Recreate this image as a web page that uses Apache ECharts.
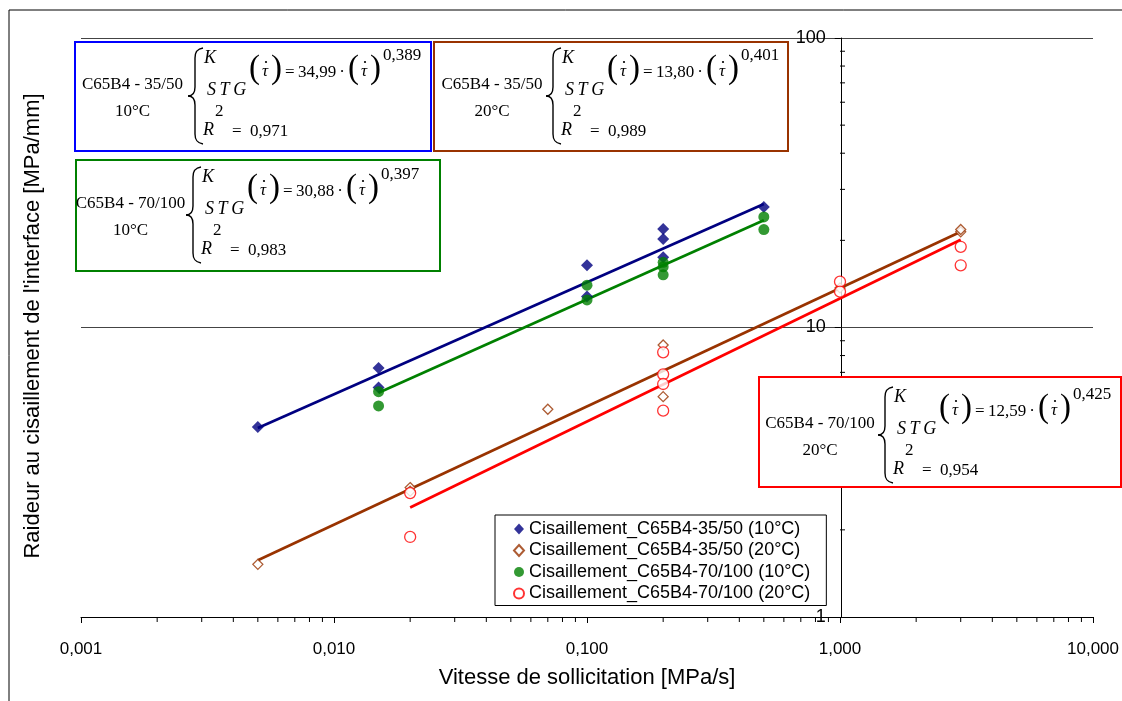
<!DOCTYPE html>
<html><head><meta charset="utf-8">
<script src="https://cdn.jsdelivr.net/npm/echarts@6/dist/echarts.min.js"></script>
<style>html,body{margin:0;padding:0;background:#fff}#c{width:1122px;height:701px}</style>
</head><body><div id="c"></div>
<script>
// ---- data ----
const seriesNames = [
  'Cisaillement_C65B4-35/50 (10°C)',
  'Cisaillement_C65B4-35/50 (20°C)',
  'Cisaillement_C65B4-70/100 (10°C)',
  'Cisaillement_C65B4-70/100 (20°C)'
];
const x_35_10 = [0.005, 0.015, 0.015, 0.1, 0.1, 0.2, 0.2, 0.2, 0.5];
const y_35_10 = [4.53, 7.25, 6.2, 16.4, 12.8, 21.9, 20.2, 17.5, 26.1];
const x_35_20 = [0.005, 0.02, 0.02, 0.07, 0.2, 0.2, 1, 3, 3];
const y_35_20 = [1.52, 2.80, 2.72, 5.22, 8.70, 5.77, 13.7, 21.4, 21.8];
const x_70_10 = [0.015, 0.015, 0.1, 0.1, 0.2, 0.2, 0.2, 0.5, 0.5];
const y_70_10 = [6.0, 5.36, 14.0, 12.45, 16.8, 16.2, 15.2, 24.1, 21.8];
const x_70_20 = [0.02, 0.02, 0.2, 0.2, 0.2, 0.2, 1, 1, 3, 3];
const y_70_20 = [2.68, 1.89, 8.21, 6.89, 6.38, 5.16, 14.4, 13.3, 19.0, 16.4];
// trend line end points
const fit_35_10_x = [0.005, 0.5],  fit_35_10_y = [4.5, 26.7];
const fit_35_20_x = [0.005, 3],    fit_35_20_y = [1.57, 21.4];
const fit_70_10_x = [0.015, 0.5],  fit_70_10_y = [5.95, 23.45];
const fit_70_20_x = [0.02, 3],     fit_70_20_y = [2.39, 20.1];
// equations text
const eqLabels = [['C65B4 - 35/50', '10°C'], ['C65B4 - 35/50', '20°C'], ['C65B4 - 70/100', '10°C'], ['C65B4 - 70/100', '20°C']];
const eqCoef = ['34,99', '13,80', '30,88', '12,59'];
const eqExp = ['0,389', '0,401', '0,397', '0,425'];
const eqR2 = ['0,971', '0,989', '0,983', '0,954'];
// axis ticks
const xTicks = [0.001, 0.01, 0.1, 1, 10];
const yTicks = [1, 10, 100];
const minorMult = [2, 3, 4, 5, 6, 7, 8, 9];
const xMinor = [];
[0.001, 0.01, 0.1, 1].forEach(d => minorMult.forEach(m => xMinor.push(+(d * m).toPrecision(3))));
const yMinor = [];
[1, 10].forEach(d => minorMult.forEach(m => yMinor.push(d * m)));

const zip = (a, b) => a.map((v, i) => [v, b[i]]);

const colors = ['#000080', '#993300', '#008000', '#FF0000'];
const SERIF = '"Liberation Serif", "Times New Roman", serif';
const SANS = '"Liberation Sans", Arial, sans-serif';

// ---- equation boxes (annotations) ----
const boxes = [
  {r: [75, 42, 356, 109], c: '#0000FF', bx: 187, by: 48, lx: 132.5},
  {r: [434, 42, 354, 109], c: '#993300', bx: 545, by: 48, lx: 492},
  {r: [76, 160, 364, 111], c: '#008000', bx: 185, by: 167, lx: 130.5},
  {r: [759, 377, 362, 110], c: '#FF0000', bx: 877, by: 387, lx: 820}
];
function txt(x, y, s, size, opt) {
  opt = opt || {};
  return {type: 'text', x: x, y: y, z: 100,
    style: {text: s, font: (opt.italic ? 'italic ' : '') + size + 'px ' + SERIF, fill: '#000',
      textAlign: opt.align || 'left', textVerticalAlign: 'middle', verticalAlign: 'middle'}};
}
function bez(bx, by, a) {
  return {type: 'bezierCurve', z: 100,
    shape: {x1: bx + a[0], y1: by + a[1], cpx1: bx + a[2], cpy1: by + a[3], cpx2: bx + a[4], cpy2: by + a[5], x2: bx + a[6], y2: by + a[7]},
    style: {fill: null, stroke: '#000', lineWidth: 1.4}};
}
function seg(bx, by, a) {
  return {type: 'line', z: 100, shape: {x1: bx + a[0], y1: by + a[1], x2: bx + a[2], y2: by + a[3]},
    style: {stroke: '#000', lineWidth: 1.4}};
}
const graphics = [];
boxes.forEach((b, i) => {
  const bx = b.bx, by = b.by;
  graphics.push({type: 'rect', z: 99, shape: {x: b.r[0], y: b.r[1], width: b.r[2], height: b.r[3]},
    style: {fill: '#fff', stroke: b.c, lineWidth: 2}});
  graphics.push(txt(b.lx, by + 37, eqLabels[i][0], 17, {align: 'center'}));
  graphics.push(txt(b.lx, by + 64, eqLabels[i][1], 17, {align: 'center'}));
  // curly brace
  graphics.push(bez(bx, by, [16, 0, 10, 1, 8, 4, 8, 10]));
  graphics.push(seg(bx, by, [8, 10, 8, 39]));
  graphics.push(bez(bx, by, [8, 39, 8, 45, 6, 48, 1, 48]));
  graphics.push(bez(bx, by, [1, 48, 6, 48, 8, 51, 8, 57]));
  graphics.push(seg(bx, by, [8, 57, 8, 86]));
  graphics.push(bez(bx, by, [8, 86, 8, 92, 10, 95, 16, 96]));
  graphics.push(txt(bx + 17, by + 10, 'K', 18, {italic: true}));
  graphics.push(txt(bx + 20, by + 42, 'S\u2009T\u2009G', 18, {italic: true}));
  [[62, 84], [161, 183]].forEach(p => {
    graphics.push(txt(bx + p[0], by + 21, '(', 33));
    graphics.push(txt(bx + (p[0] + p[1]) / 2 + 5, by + 24, 'τ', 17, {italic: true, align: 'center'}));
    graphics.push({type: 'circle', z: 100, shape: {cx: bx + (p[0] + p[1]) / 2 + 6, cy: by + 14, r: 1.1}, style: {fill: '#000'}});
    graphics.push(txt(bx + p[1], by + 21, ')', 33));
  });
  graphics.push(txt(bx + 98, by + 25, '=', 17));
  graphics.push(txt(bx + 111, by + 25, eqCoef[i], 17));
  graphics.push(txt(bx + 155, by + 25, '·', 17, {align: 'center'}));
  graphics.push(txt(bx + 196, by + 8, eqExp[i], 17));
  graphics.push(txt(bx + 16, by + 82, 'R', 18, {italic: true}));
  graphics.push(txt(bx + 28, by + 64, '2', 17));
  graphics.push(txt(bx + 45, by + 84, '=  ' + eqR2[i], 17));
});
// outer frame (left & top edges visible)
graphics.push({type: 'polyline', z: 1, shape: {points: [[9, 701], [9, 10], [1122, 10]]}, style: {stroke: '#000', lineWidth: 1, fill: null}});
// y axis name
graphics.push({type: 'text', x: 33, y: 326, rotation: Math.PI / 2, z: 10,
  style: {text: "Raideur au cisaillement de l'interface [MPa/mm]", font: '22px ' + SANS, fill: '#000',
    textAlign: 'center', textVerticalAlign: 'middle', verticalAlign: 'middle'}});

const chart = echarts.init(document.getElementById('c'), null, {renderer: 'canvas'});
const scatterStyles = [
  {symbol: 'diamond', size: 12, itemStyle: {color: '#000080'}},
  {symbol: 'diamond', size: 10, itemStyle: {color: '#fff', borderColor: '#993300', borderWidth: 1.3}},
  {symbol: 'circle', size: 11, itemStyle: {color: '#008000'}},
  {symbol: 'circle', size: 11, itemStyle: {color: '#fff', borderColor: '#FF0000', borderWidth: 1.3}}
];
const pts = [zip(x_35_10, y_35_10), zip(x_35_20, y_35_20), zip(x_70_10, y_70_10), zip(x_70_20, y_70_20)];
const fits = [zip(fit_35_10_x, fit_35_10_y), zip(fit_35_20_x, fit_35_20_y), zip(fit_70_10_x, fit_70_10_y), zip(fit_70_20_x, fit_70_20_y)];
const series = [];
fits.forEach((f, i) => series.push({type: 'line', name: 'fit' + i, data: f, symbol: 'none', z: 3,
  lineStyle: {color: colors[i], width: 2.7}, itemStyle: {color: colors[i]}, silent: true, animation: false}));
pts.forEach((p, i) => series.push({type: 'scatter', name: seriesNames[i], data: p, z: 4,
  symbol: scatterStyles[i].symbol, symbolSize: scatterStyles[i].size, itemStyle: scatterStyles[i].itemStyle, animation: false}));
series.push({type: 'custom', name: 'xminor', data: xMinor.map(v => [v, 1]), clip: false, silent: true, z: 5, animation: false,
  renderItem: (params, api) => { const p = api.coord([api.value(0), api.value(1)]);
    return {type: 'line', shape: {x1: p[0], y1: p[1], x2: p[0], y2: p[1] + 5}, style: {stroke: '#000', lineWidth: 1}}; }});
series.push({type: 'custom', name: 'yminor', data: yMinor.map(v => [1, v]), clip: false, silent: true, z: 5, animation: false,
  renderItem: (params, api) => { const p = api.coord([api.value(0), api.value(1)]);
    return {type: 'line', shape: {x1: p[0], y1: p[1], x2: p[0] + 5, y2: p[1]}, style: {stroke: '#000', lineWidth: 1}}; }});

chart.setOption({
  animation: false,
  backgroundColor: '#fff',
  grid: {left: 81, right: 28, top: 38, bottom: 84, containLabel: false},
  xAxis: {type: 'log', logBase: 10, min: xTicks[0], max: xTicks[xTicks.length - 1], splitNumber: 4,
    name: 'Vitesse de sollicitation [MPa/s]', nameLocation: 'middle', nameGap: 61,
    nameTextStyle: {fontFamily: SANS, fontSize: 22, color: '#000', verticalAlign: 'middle'},
    axisLine: {show: true, lineStyle: {color: '#000', width: 1}},
    axisTick: {show: true, length: 6, lineStyle: {color: '#000'}},
    axisLabel: {margin: 24, fontFamily: SANS, fontSize: 17, color: '#000',
      formatter: v => Number(v).toFixed(3).replace('.', ',')},
    splitLine: {show: false}},
  yAxis: {type: 'log', logBase: 10, min: yTicks[0], max: yTicks[yTicks.length - 1], splitNumber: 2,
    position: 'left', offset: -759.75,
    axisLine: {show: true, lineStyle: {color: '#000', width: 1}},
    axisTick: {show: true, length: 6, lineStyle: {color: '#000'}},
    axisLabel: {margin: 15, fontFamily: SANS, fontSize: 18, color: '#000',
      formatter: v => String(Math.round(v))},
    splitLine: {show: true, lineStyle: {color: '#444', width: 1}}},
  legend: {data: seriesNames, orient: 'vertical', left: 495, top: 515,
    backgroundColor: '#fff', borderColor: '#000', borderWidth: 1, borderRadius: 0,
    padding: [4, 16, 2, 18], itemGap: 1.5, itemWidth: 10, itemHeight: 11,
    textStyle: {fontFamily: SANS, fontSize: 18, color: '#000', lineHeight: 20}, z: 20},
  series: series,
  graphic: {elements: graphics}
});
</script></body></html>
